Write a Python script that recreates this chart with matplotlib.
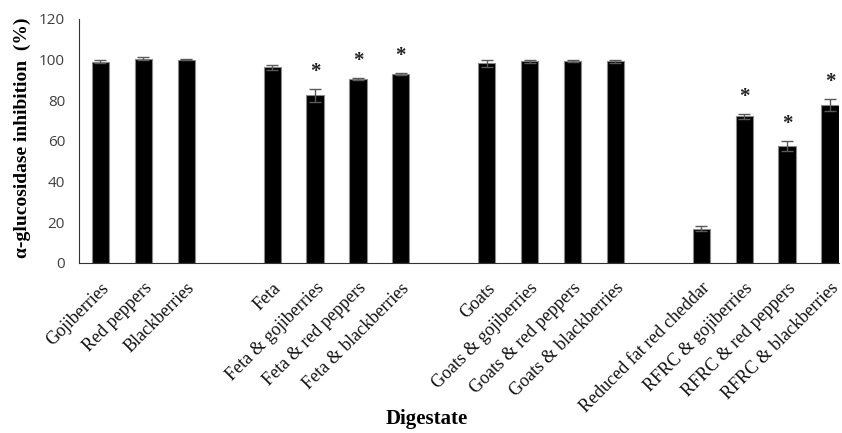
import matplotlib
matplotlib.use("Agg")
import matplotlib.pyplot as plt
import numpy as np

categories = ["Gojiberries", "Red peppers", "Blackberries", "",
              "Feta", "Feta & gojiberries", "Feta & red peppers", "Feta & blackberries", "",
              "Goats", "Goats & gojiberries", "Goats & red peppers", "Goats & blackberries", "",
              "Reduced fat red cheddar", "RFRC & gojiberries", "RFRC & red peppers", "RFRC & blackberries"]
values = [99.0, 100.5, 100.0, np.nan,
          96.2, 82.5, 90.6, 92.8, np.nan,
          98.2, 99.1, 99.5, 99.2, np.nan,
          16.9, 72.1, 57.5, 77.8]
errors = [0.7, 0.6, 0.4, np.nan,
          1.2, 3.2, 0.6, 0.5, np.nan,
          1.8, 0.6, 0.5, 0.6, np.nan,
          1.4, 1.3, 2.3, 3.0]
significant = [False, False, False, False,
               False, True, True, True, False,
               False, False, False, False, False,
               False, True, True, True]
y_ticks = [0, 20, 40, 60, 80, 100, 120]

fig = plt.figure(figsize=(8.42, 4.33), dpi=100)
ax = fig.add_axes([79/842, (433-263)/433, (839-79)/842, (263-19)/433])

x = np.arange(len(categories))
vals = np.array(values, dtype=float)
errs = np.array(errors, dtype=float)
mask = ~np.isnan(vals)

ax.bar(x[mask], vals[mask], width=0.4, color="black", edgecolor="#8a8a8a", linewidth=0.8, zorder=2)
ax.errorbar(x[mask], vals[mask], yerr=errs[mask], fmt="none", ecolor="#5a5a5a",
            elinewidth=1.0, capsize=4, capthick=1.0, zorder=3)

for xi, v, e, s in zip(x, vals, errs, significant):
    if s:
        ax.annotate("*", xy=(xi, v + e), xytext=(0, 5), textcoords="offset points",
                    ha="center", va="bottom", fontsize=15, family="Liberation Serif",
                    fontweight="bold", color="#222222")

ax.set_xlim(-0.5, 17.21)
ax.set_ylim(0, 120)
ax.set_yticks(y_ticks)
ax.set_yticklabels([str(t) for t in y_ticks], fontsize=11, family="Open Sans", color="#404040")
ax.tick_params(axis="y", length=0, pad=10)
ax.set_xticks(x[mask])
ax.set_xticklabels([c for c, m in zip(categories, mask) if m], rotation=45, ha="right",
                   rotation_mode="anchor", fontsize=13, family="Liberation Serif",
                   color="#111111")
ax.tick_params(axis="x", length=0, pad=12)

for side in ["top", "right"]:
    ax.spines[side].set_visible(False)
ax.spines["left"].set_color("#333333")
ax.spines["bottom"].set_color("#333333")

ax.set_ylabel("α-glucosidase inhibition  (%)", fontsize=14, family="Liberation Serif",
              fontweight="bold")
ax.yaxis.set_label_coords(-0.0625, 0.514)
ax.set_xlabel("Digestate", fontsize=15, family="Liberation Serif", fontweight="bold")
ax.xaxis.set_label_coords(0.458, -0.6)

fig.savefig("out.png", dpi=100)
